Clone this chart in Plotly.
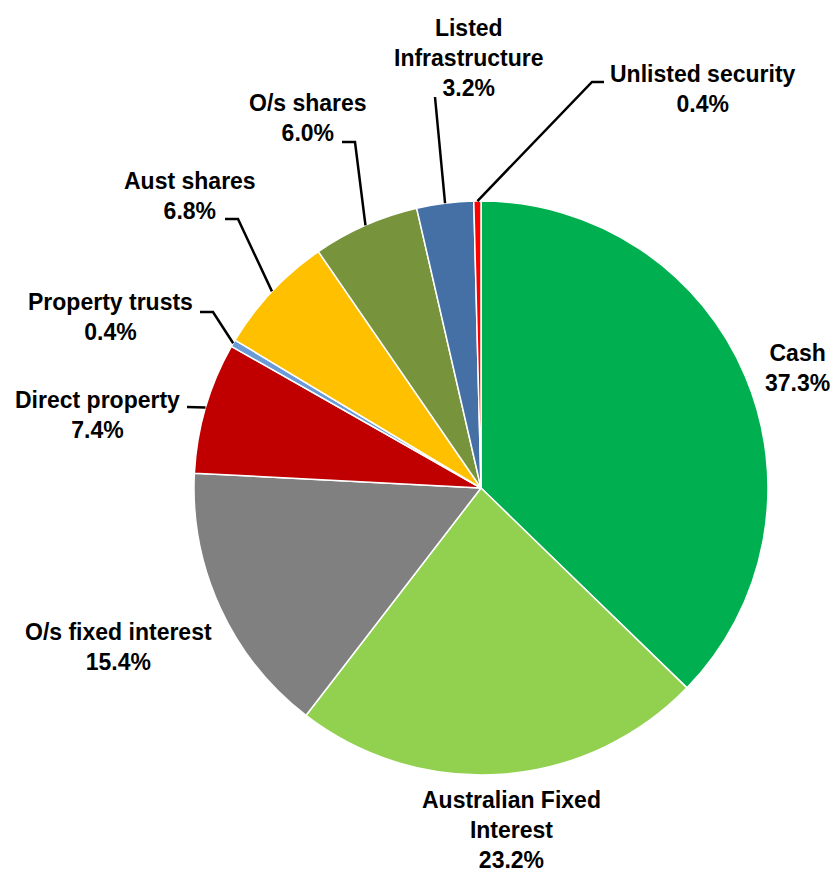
import math
import plotly.graph_objects as go

# Portfolio allocation by asset class (%)
categories = [
    "Cash",
    "Australian Fixed Interest",
    "O/s fixed interest",
    "Direct property",
    "Property trusts",
    "Aust shares",
    "O/s shares",
    "Listed Infrastructure",
    "Unlisted security",
]
values = [37.3, 23.2, 15.4, 7.4, 0.4, 6.8, 6.0, 3.2, 0.4]
colors = [
    "#00B050", "#92D050", "#808080", "#C00000", "#6A9BD8",
    "#FFC000", "#77933C", "#4470A6", "#FF0000",
]
# Label text broken over lines
label_lines = {
    "Australian Fixed Interest": "Australian Fixed<br>Interest",
    "Listed Infrastructure": "Listed<br>Infrastructure",
}

W, H = 837, 872
CX, CY, R = 481, 488, 287  # pie centre and radius in pixels


def px(x):
    return x / W


def py(y):
    return 1 - y / H


# label block centres (pixels)
label_pos = {
    "Cash": (797, 368),
    "Australian Fixed Interest": (511, 830),
    "O/s fixed interest": (118, 647),
    "Direct property": (97, 415),
    "Property trusts": (110, 317),
    "Aust shares": (190, 196),
    "O/s shares": (308, 118),
    "Listed Infrastructure": (469, 58),
    "Unlisted security": (703, 89),
}
# leader lines: start point and elbow (pixels); end lies on the slice edge
leaders = {
    "Direct property": [(187, 407)],
    "Property trusts": [(200, 312), (213, 312)],
    "Aust shares": [(225, 219), (238, 219)],
    "O/s shares": [(342, 142), (355, 142)],
    "Listed Infrastructure": [(435, 97)],
    "Unlisted security": [(604, 82), (592, 82)],
}

fig = go.Figure(
    go.Pie(
        labels=categories,
        values=values,
        sort=False,
        direction="clockwise",
        rotation=0,
        marker=dict(colors=colors, line=dict(color="white", width=1.5)),
        textinfo="none",
        hoverinfo="label+percent",
        domain=dict(x=[px(CX - R), px(CX + R)], y=[py(CY + R), py(CY - R)]),
        showlegend=False,
    )
)

total = sum(values)
annotations = []
shapes = []
cum = 0.0
for name, v in zip(categories, values):
    mid = (cum + v / 2) / total * 2 * math.pi
    cum += v
    lx, ly = label_pos[name]
    pct = f"{v:.1f}%"
    annotations.append(dict(
        x=px(lx), y=py(ly), xref="paper", yref="paper",
        text=f"{label_lines.get(name, name)}<br>{pct}",
        showarrow=False, xanchor="center", yanchor="middle",
        font=dict(family="Liberation Sans, Arial, sans-serif", size=23,
                  color="black", weight="bold"),
    ))
    if name in leaders:
        ex = CX + R * math.sin(mid)
        ey = CY - R * math.cos(mid)
        pts = leaders[name] + [(ex, ey)]
        path = "M " + " L ".join(f"{px(x):.5f},{py(y):.5f}" for x, y in pts)
        shapes.append(dict(type="path", path=path, xref="paper", yref="paper",
                           line=dict(color="black", width=2.5)))

fig.update_layout(
    width=W, height=H,
    margin=dict(l=0, r=0, t=0, b=0),
    paper_bgcolor="white",
    plot_bgcolor="white",
    annotations=annotations,
    shapes=shapes,
)

fig.write_html("out.html")
